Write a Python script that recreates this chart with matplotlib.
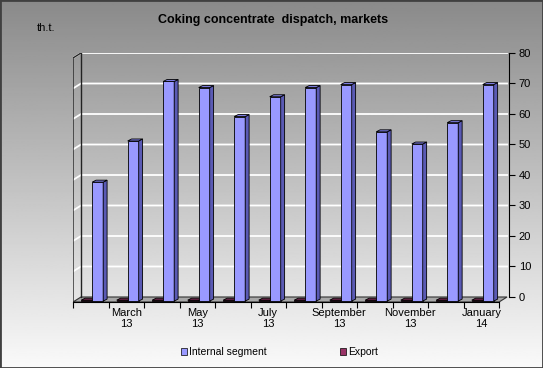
import matplotlib
matplotlib.use('Agg')
import matplotlib.pyplot as plt
import numpy as np
from matplotlib.patches import Polygon, Patch, Rectangle

months = ['February', 'March', 'April', 'May', 'June', 'July', 'August',
          'September', 'October', 'November', 'December', 'January']
years = ['13'] * 11 + ['14']
internal = [39, 52.5, 72, 70, 60.5, 67, 70, 71, 55.5, 51.5, 58.5, 71]
export = [0.3] * 12
yticks = [0, 10, 20, 30, 40, 50, 60, 70, 80]

plt.rcParams['font.family'] = ['Liberation Sans', 'DejaVu Sans']

fig = plt.figure(figsize=(5.43, 3.68), dpi=100)

# grey gradient background
bg = fig.add_axes([0, 0, 1, 1], zorder=-10)
grad = np.linspace(0.54, 0.98, 256).reshape(-1, 1)
bg.imshow(grad, cmap='gray', vmin=0, vmax=1, aspect='auto',
          extent=[0, 1, 0, 1], origin='upper')
bg.axis('off')
fig.patches.append(Rectangle((0, 0), 1, 1, transform=fig.transFigure,
                             fill=False, edgecolor='#404040', lw=2))

ax = fig.add_axes([73 / 543, 66 / 368, 436 / 543, 249 / 368])
ax.patch.set_alpha(0)
n = len(months)
x = np.arange(n)
DX, DY = 0.225, 1.64  # 3d depth offset of the back wall
ax.set_xlim(0, 12.28)
ax.set_ylim(0, 249 / 3.05)

# floor
ax.add_patch(Polygon([(0, 0), (n, 0), (n + DX, DY), (DX, DY)],
                     facecolor='#a8a8a8', edgecolor='#333333', lw=0.8, zorder=1))
# gridlines on side + back wall
for v in yticks[1:]:
    ax.plot([0, DX, n + DX], [v, v + DY, v + DY], color='white', lw=1.3, zorder=1)
ax.plot([0, 0, DX], [0, 80, 80 + DY], color='#222222', lw=1, zorder=2)
ax.plot([DX, DX], [DY, 80 + DY], color='#222222', lw=1, zorder=2)


def bars3d(left, vals, w, front, side, top):
    b = 0.3
    sd, sdy = 0.11, 0.65
    rects = ax.bar(left, vals, width=w, bottom=b, align='edge', color=front,
                   edgecolor='black', lw=0.6, zorder=3)
    for r in rects:
        xl = r.get_x()
        xr = xl + r.get_width()
        h = r.get_height()
        ax.add_patch(Polygon([(xr, b), (xr + sd, b + sdy), (xr + sd, b + h + sdy), (xr, b + h)],
                             facecolor=side, edgecolor='black', lw=0.6, zorder=3))
        ax.add_patch(Polygon([(xl, b + h), (xr, b + h), (xr + sd, b + h + sdy), (xl + sd, b + h + sdy)],
                             facecolor=top, edgecolor='black', lw=0.6, zorder=3))


bars3d(x + 0.23, export, 0.31, '#993366', '#5c1f3d', '#7a2952')
bars3d(x + 0.54, internal, 0.31, '#9999ff', '#5a5ab4', '#7c7ce0')

# axes
for s in ['left', 'top']:
    ax.spines[s].set_visible(False)
ax.spines['right'].set_bounds(DY, 80 + DY)
ax.spines['bottom'].set_bounds(0, n)
ax.yaxis.tick_right()
ax.set_yticks([v + DY for v in yticks])
ax.set_yticklabels([str(v) for v in yticks], fontsize=8)
ax.tick_params(axis='y', length=4, pad=3)
ax.set_xticks(np.arange(n + 1))
ax.set_xticklabels([])
ax.tick_params(axis='x', which='major', length=4)
ax.set_xticks(x[1::2] + 0.5, minor=True)
ax.set_xticklabels([months[i] + '\n' + years[i] for i in x[1::2]], minor=True, fontsize=8)
ax.tick_params(axis='x', which='minor', length=0, pad=4)

fig.text(0.503, 1 - 20 / 368, 'Coking concentrate  dispatch, markets',
         ha='center', va='center', fontsize=9, fontweight='bold')
fig.text(37 / 543, 1 - 28 / 368, 'th.t.', va='center', fontsize=8)

handles = [Patch(facecolor='#9999ff', edgecolor='black', lw=0.5, label='Internal segment'),
           Patch(facecolor='#993366', edgecolor='black', lw=0.5, label='Export')]
fig.legend(handles=handles, ncol=2, loc='center', bbox_to_anchor=(0.515, 0.043),
           frameon=False, fontsize=7.5, handlelength=0.6, handleheight=0.6,
           handletextpad=0.2, columnspacing=7)

fig.savefig('out.png', dpi=100)
